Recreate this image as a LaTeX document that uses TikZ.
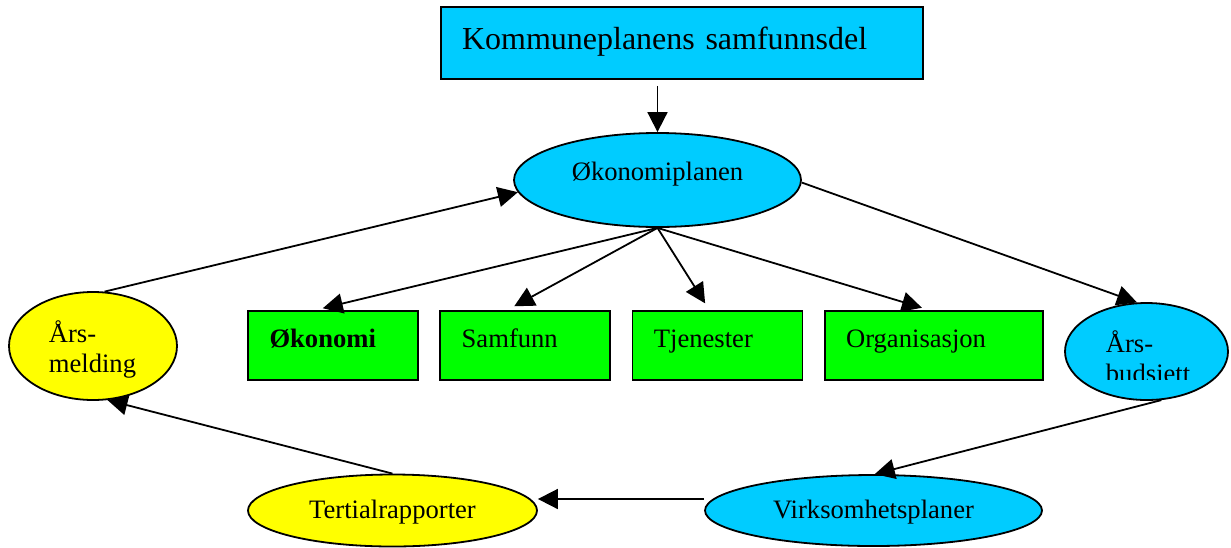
\documentclass[tikz,border=0pt]{standalone}
\usepackage{fontspec}
\setmainfont{Liberation Serif}
\usetikzlibrary{positioning}
\usetikzlibrary{arrows.meta}
\usetikzlibrary{shapes.geometric}

\definecolor{planblue}{HTML}{00CCFF}
\definecolor{plangreen}{HTML}{00FF00}
\definecolor{planyellow}{HTML}{FFFF00}

\begin{document}
\begin{tikzpicture}[
            x = 0.5pt, y = -0.5pt, % one unit is one pixel of the page
            > = {Triangle[length=10pt,width=10pt]}, % arrow head style
            line width = 0.9pt % line style
        ]

        \tikzstyle{planbox}=[
            draw,
            rectangle,
            align = left,
            inner xsep = 10.75pt,
            minimum height = 34.5pt,
            text width = 63.5pt,
            text height = 10pt,
            text depth = 7.7pt,
            font = \fontsize{13.3}{15}\selectfont
        ]
        \tikzstyle{planellipse}=[
            draw,
            ellipse,
            inner sep = 0pt,
            text height = 10pt,
            text depth = 2.5pt,
            font = \fontsize{13.3}{15}\selectfont
        ]
        \tikzstyle{yeartext}=[
            align = left,
            inner sep = 0pt,
            anchor = base west,
            font = \fontsize{13.3}{15}\selectfont
        ]

        \useasboundingbox (0,0) rectangle (1231,547);

	% KOMMUNEPLAN OG OEKONOMIPLAN
        \node[planbox, fill = planblue, minimum height = 36pt, text width = 220pt,
              inner xsep = 10.5pt, text height = 12pt, text depth = 5.9pt,
              font = \fontsize{16}{19}\selectfont] (KP) at (682,43) {Kommuneplanens samfunnsdel};
        \node[planellipse, fill = planblue, minimum width = 143.5pt, minimum height = 47pt,
              text depth = 9.7pt] (OP) at (657.5,180) {Økonomiplanen};

	% FIRE DELER
        \node[planbox, fill = plangreen] (OkB) at (333,345.5) {\textbf{Økonomi}};
        \node[planbox, fill = plangreen] (SaB) [right=10.2pt of OkB] {Samfunn};
        \node[planbox, fill = plangreen] (TjB) [right=10.2pt of SaB] {Tjenester};
        \node[planbox, fill = plangreen, text width = 87.5pt] (OrB) [right=10.2pt of TjB] {Organisasjon};

	% AARSHJULET
        \node[planellipse, fill = planyellow, minimum width = 84pt, minimum height = 54pt] (AM) at (93,346) {};
        \node[planellipse, fill = planblue, minimum width = 81.5pt, minimum height = 48.5pt] (AB) at (1146.5,351.5) {};
        \node[planellipse, fill = planblue, minimum width = 168.5pt, minimum height = 35.5pt] (VP) at (873.5,510.5) {Virksomhetsplaner};
        \node[planellipse, fill = planyellow, minimum width = 144.5pt, minimum height = 36pt] (TR) at (392.5,510.5) {Tertialrapporter};

        \node[yeartext] (AMtext) at (48,372) {Års-\\melding};
        \begin{scope}
        \clip (1060,290) rectangle (1231,379);
        \node[yeartext] (ABtext) at (1105,382) {Års-\\budsjett};
        \end{scope}

        \path (KP.south -| OP.north) ++(0,6) coordinate (KPout);

        \draw[->] (KPout) -- (OP.north);
        \draw[->, shorten > = 4pt] (OP.south) -- ([xshift=-9pt]OkB.north);
        \draw[->, shorten > = 4pt] (OP.south) -- ([xshift=-9pt]SaB.north);
        \draw[->, shorten > = 4pt] (OP.south) -- ([xshift=-4pt]TjB.north);
        \draw[->, shorten > = 4pt] (OP.south) -- ([xshift=-2pt]OrB.north);

        \draw[->] (AM.78) -- (OP.185);
        \draw[->] (OP.359) -- (AB.101);
        \draw[->] (AB.287) -- (VP.88);
        \draw[->] ([yshift=5.75pt]VP.west) -- ([yshift=5.75pt]TR.east);
        \draw[->] (TR.north) -- (AM.285);

  \end{tikzpicture}
\end{document}
